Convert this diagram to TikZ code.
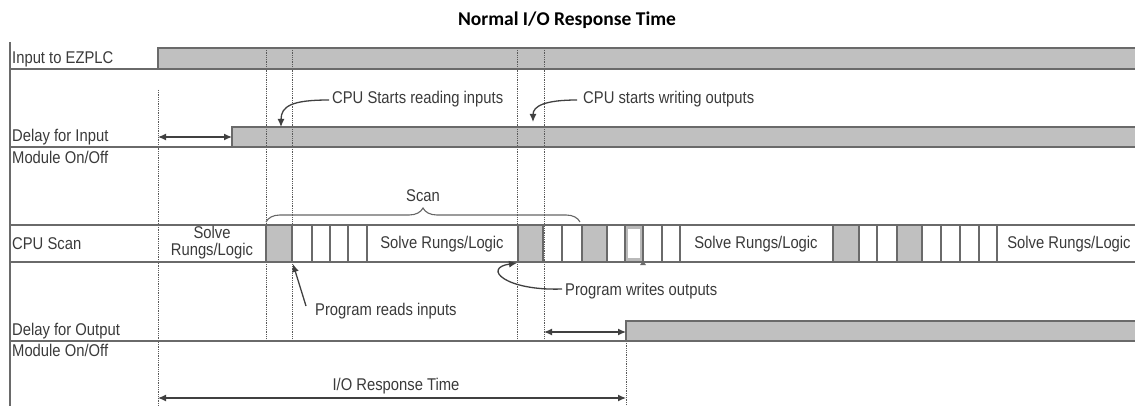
\documentclass[tikz,border=0pt]{standalone}
\usepackage{fontspec}
\setmainfont{Liberation Sans}
\newfontfamily\labfont[FakeStretch=0.87]{Liberation Sans}
\newfontfamily\titlefont{Carlito}
\usetikzlibrary{arrows.meta,positioning,calc,decorations.pathreplacing}

\definecolor{sigline}{HTML}{6A6A6A}
\definecolor{sigfill}{HTML}{C0C0C0}
\definecolor{labtext}{HTML}{3A3A3A}

\begin{document}
\begin{tikzpicture}[x=1pt, y=-1pt, font=\labfont\fontsize{17}{17}\selectfont, text=labtext,
    sig/.style={draw=sigline, line width=1.7pt},
    cell/.style={draw=sigline, line width=1.2pt},
    guide/.style={draw=black!65, densely dotted, line width=0.8pt},
    span/.style={{Latex[length=8pt,width=7pt]}-{Latex[length=8pt,width=7pt]}, draw=black!75, line width=1.3pt},
    callout/.style={-{Latex[length=8pt,width=7pt]}, draw=black!75, line width=1.3pt},
    rowlabel/.style={anchor=west, inner sep=0pt}]
    \useasboundingbox (0,0) rectangle (1135,406);

    % title
    \node[font=\titlefont\bfseries\fontsize{19.5}{20}\selectfont, text=black] (title) at (567,20) {Normal I/O Response Time};

    % grey bands
    \fill[sigfill] (158,48) rectangle (1135,69);
    \fill[sigfill] (232,127) rectangle (1135,147);
    \fill[sigfill] (626,321) rectangle (1135,341);
    \foreach \a/\b in {266/292,518/543,582/607,833/859,897/922}
      \fill[sigfill] (\a,225) rectangle (\b,262);

    % time markers
    \draw[guide] (158,90) -- (158,406);
    \foreach \x in {266,292,517,544} \draw[guide] (\x,48) -- (\x,341);
    \draw[guide] (626,341) -- (626,406);

    % signals
    \draw[sig, line width=1.3pt] (10,42) -- (10,406);
    \draw[sig] (10,69) -- (1135,69);
    \draw[sig] (158,69) -- (158,48) -- (1135,48);
    \draw[sig] (10,147) -- (1135,147);
    \draw[sig] (232,147) -- (232,127) -- (1135,127);
    \draw[sig] (10,341) -- (1135,341);
    \draw[sig] (626,341) -- (626,321) -- (1135,321);

    % cpu scan row
    \draw[sig] (10,225) -- (1135,225);
    \draw[sig] (10,262) -- (1135,262);
    \foreach \x in {266,292,312,330,348,367,518,543,562,582,607,625,643,662,680,833,859,877,897,922,941,960,979,997}
      \draw[cell] (\x,225) -- (\x,262);
    \draw[draw=gray!55, line width=2.2pt] (627,227.5) rectangle (641,259.5);
    \fill[sigline] (640,265) -- (646,265) -- (643,261) -- cycle;

    % labels
    \node[rowlabel] (inLbl) at (12,59) {Input to EZPLC};
    \node[rowlabel] (dinLbl) at (12,137) {Delay for Input};
    \node[rowlabel] (modInLbl) at (12,157) {Module On/Off};
    \node[rowlabel] (scanLbl) at (12,244) {CPU Scan};
    \node[rowlabel] (doutLbl) at (12,331) {Delay for Output};
    \node[rowlabel] (modOutLbl) at (12,350) {Module On/Off};

    \node[align=center, inner sep=0pt] (solve0) at (212,243) {Solve\\Rungs/Logic};
    \node[inner sep=0pt] (solve1) at (442,244) {Solve Rungs/Logic};
    \node[inner sep=0pt] (solve2) at (756,244) {Solve Rungs/Logic};
    \node[inner sep=0pt] (solve3) at (1069,244) {Solve Rungs/Logic};

    % scan brace
    \draw[draw=black!60, line width=1.1pt, decorate, decoration={brace, amplitude=14pt}] (266,222) -- (580,222);
    \node[inner sep=0pt] (scanTxt) at (423,196) {Scan};

    % call-outs
    \node[rowlabel] (readIn) at (332,99) {CPU Starts reading inputs};
    \node[rowlabel] (writeOut) at (583,99) {CPU starts writing outputs};
    \node[rowlabel] (progRead) at (315,311) {Program reads inputs};
    \node[rowlabel] (progWrite) at (565,291) {Program writes outputs};
    \coordinate (readTip) at (281,127);
    \coordinate (writeTip) at (533,122);
    \coordinate (prTip) at (293,264);
    \coordinate (pwTip) at (517,263);
    \draw[callout] ($(readIn.west)+(-3,1)$) .. controls (292,100) and (281,106) .. (readTip);
    \draw[callout] ($(writeOut.west)+(-6,1)$) .. controls (545,100) and (533,106) .. (writeTip);
    \draw[callout] (306,306) -- (prTip);
    \draw[callout] ($(progWrite.west)+(-3,-2)$) .. controls (505,291) and (482,268) .. (pwTip);

    % spans
    \coordinate (inStart) at (158,137);
    \coordinate (inEnd) at (232,137);
    \coordinate (outStart) at (544,332);
    \coordinate (outEnd) at (626,332);
    \coordinate (ioStart) at (158,398);
    \coordinate (ioEnd) at (626,398);
    \draw[span] (inStart) -- (inEnd);
    \draw[span] (outStart) -- (outEnd);
    \draw[span] (ioStart) -- (ioEnd);
    \node[inner sep=0pt] (ioTxt) at (396,386) {I/O Response Time};
\end{tikzpicture}
\end{document}
